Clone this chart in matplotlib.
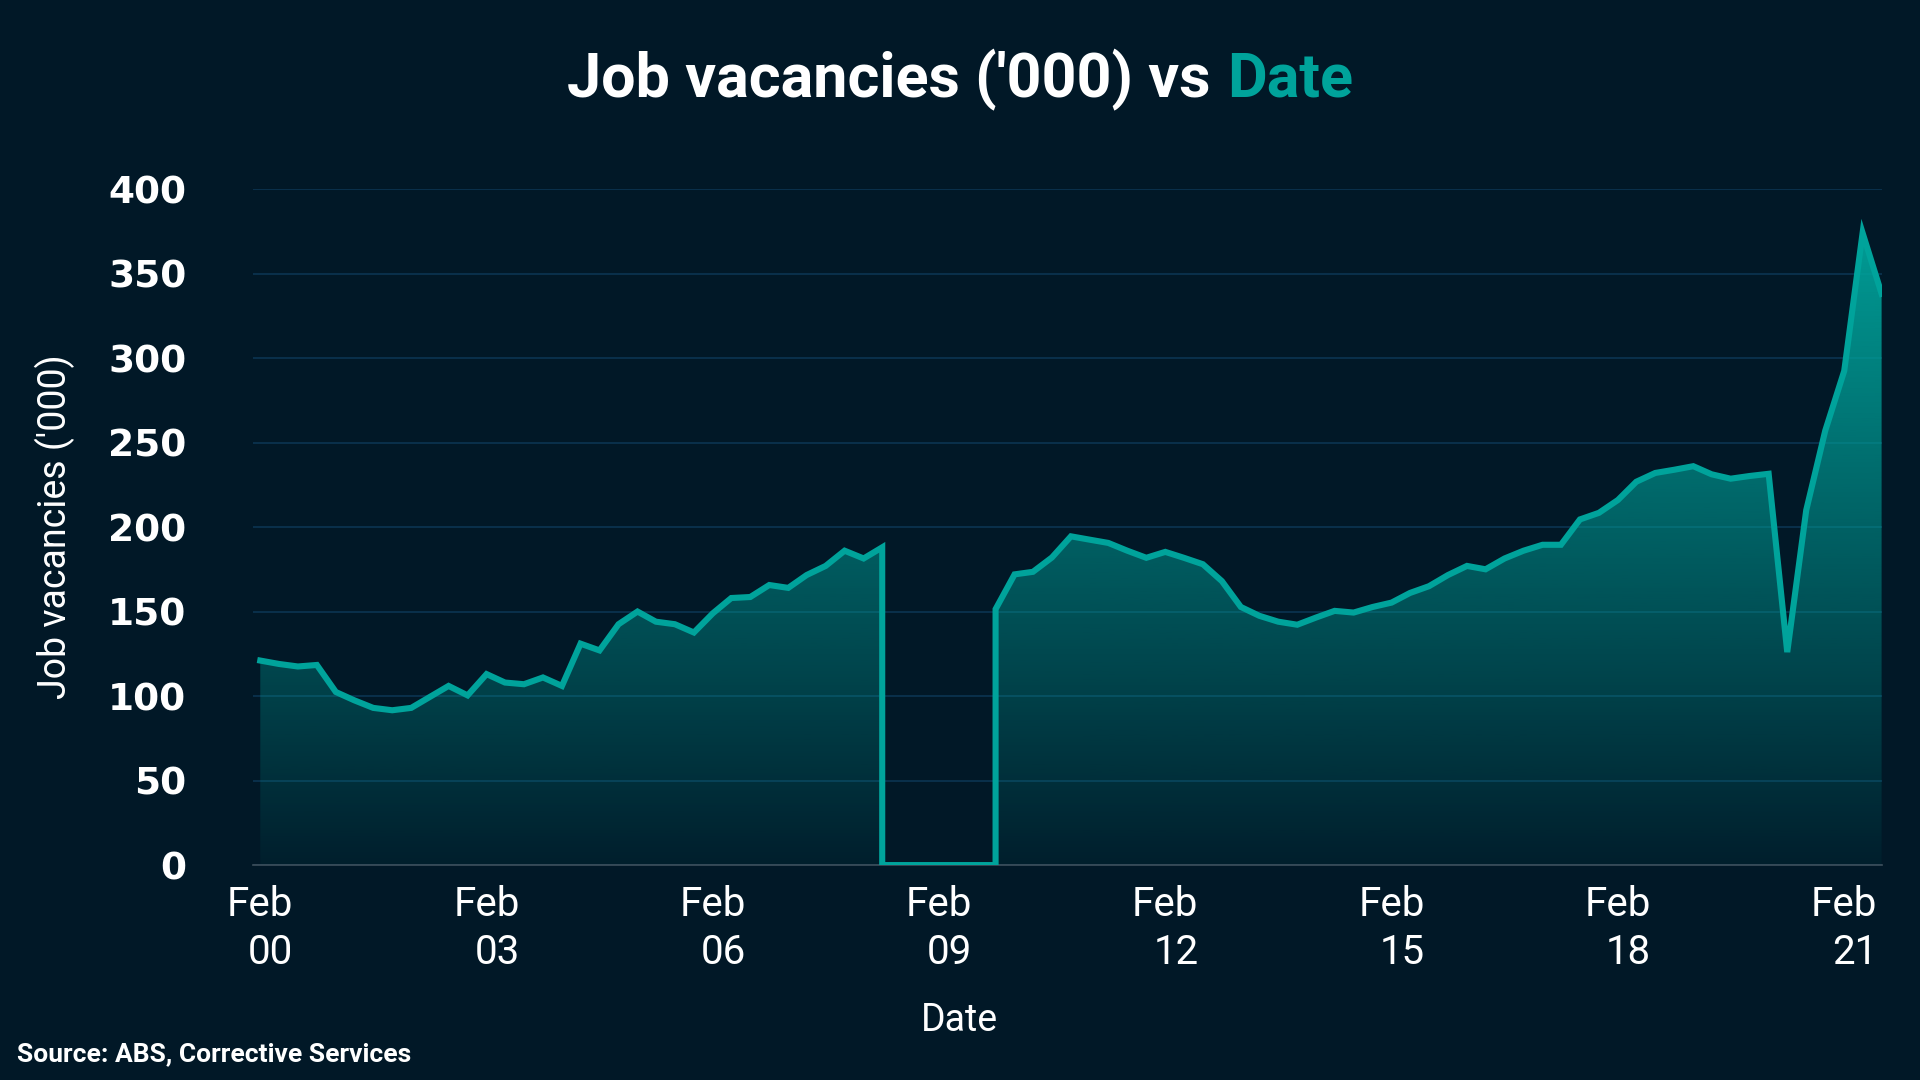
import numpy as np
import pandas as pd
import matplotlib
matplotlib.use("Agg")
import matplotlib.pyplot as plt
import matplotlib.dates as mdates
from matplotlib.colors import ListedColormap

# quarterly job vacancies ('000), Feb 2000 .. Aug 2021
# survey suspended Aug 2008 .. Aug 2009 (nan)
dates = pd.date_range("2000-02-01", periods=87, freq="3MS")
vacancies = [
    121, 119, 117.5, 118.4, 102.4, 97.5, 93, 91.6, 93, 99.4,
    106, 100.4, 113, 108, 107, 111, 106, 131, 127, 142.5,
    150, 144, 142.5, 137.6, 149, 158, 158.6, 165.7, 164, 171.6,
    177, 186, 181.4, 188,
    np.nan, np.nan, np.nan, np.nan, np.nan,
    151.4, 172, 173.5, 182, 194.5, 192.5, 190.6, 186, 181.8, 185.3,
    181.8, 178, 168, 152.7, 147.5, 144, 142.2, 146.5, 150.4, 149.4,
    152.7, 155.3, 161, 165, 171.6, 177, 175, 181.4, 186, 189.5,
    189.5, 204.5, 208.4, 216, 226.8, 232, 233.9, 236, 231.2, 228.6,
    230.2, 231.5, 126, 210, 257, 292.4, 374, 338,
]
yticks = [0, 50, 100, 150, 200, 250, 300, 350, 400]
tick_years = [2000, 2003, 2006, 2009, 2012, 2015, 2018, 2021]

bg = "#011827"
teal = "#00a39b"
grid_c = "#0b3452"

plt.rcParams['font.family'] = ['Roboto', 'DejaVu Sans']

# gap drawn as zero between last value before and first value after
xs, ys = [], []
for i in range(len(vacancies)):
    v = vacancies[i]
    if np.isnan(v):
        if i > 0 and not np.isnan(vacancies[i - 1]):
            xs.append(dates[i - 1]); ys.append(0)
        if i + 1 < len(vacancies) and not np.isnan(vacancies[i + 1]):
            xs.append(dates[i + 1]); ys.append(0)
        continue
    xs.append(dates[i]); ys.append(v)
xn = mdates.date2num(pd.DatetimeIndex(xs).to_pydatetime())
ys = np.array(ys, dtype=float)

fig = plt.figure(figsize=(19.2, 10.8), dpi=100, facecolor=bg)
ax = fig.add_axes([0.1318, 0.199, 0.8482, 0.626])
ax.set_facecolor(bg)

# gradient fill under the line
ymax = np.nanmax(ys)
poly = ax.fill_between(xn, 0, ys, facecolor="none", edgecolor="none")
n = 256
cols = np.zeros((n, 4))
cols[:, 0] = 0 / 255
cols[:, 1] = 163 / 255
cols[:, 2] = 155 / 255
cols[:, 3] = np.linspace(0.05, 0.95, n)
grad = np.linspace(0, 1, n).reshape(-1, 1)
im = ax.imshow(grad, cmap=ListedColormap(cols), aspect="auto", origin="lower",
               extent=[xn[0], xn[-1], 0, ymax], zorder=1)
im.set_clip_path(poly.get_paths()[0], transform=ax.transData)

ax.plot(xn, ys, color=teal, lw=4.4, zorder=3, solid_joinstyle="miter")

x0 = mdates.date2num(dates[0].to_pydatetime())
ax.set_xlim(x0 - 35, xn[-1])
ax.set_ylim(0, 400)
ax.set_yticks(yticks)
ax.set_yticklabels([str(t) for t in yticks], fontfamily="DejaVu Sans",
                   fontweight="bold", fontsize=27, color="white")
ax.yaxis.grid(True, color=grid_c, lw=1.2)
ax.set_axisbelow(True)

xt = [mdates.date2num(pd.Timestamp(year=y, month=2, day=1).to_pydatetime()) for y in tick_years]
ax.set_xticks(xt)
ax.set_xticklabels(["Feb\n%02d" % (y % 100) for y in tick_years], fontsize=29,
                   color="white", linespacing=1.3, multialignment="right")
ax.tick_params(axis="y", length=0, pad=48)
ax.tick_params(axis="x", length=0, pad=14)

for s in ["top", "right", "left"]:
    ax.spines[s].set_visible(False)
ax.spines["bottom"].set_color("#3e4f5b")
ax.spines["bottom"].set_linewidth(1.2)

ax.set_ylabel("Job vacancies ('000)", fontsize=27, fontweight="normal",
              color="white", labelpad=24)
ax.set_xlabel("Date", fontsize=27, color="white", labelpad=22)
ax.xaxis.label.set_x(0.434)

# two-colour title, centred
fig.canvas.draw()
r = fig.canvas.get_renderer()
t1 = fig.text(0, 0.926, "Job vacancies ('000) vs", fontsize=44, fontweight="bold",
              color="white", va="center", ha="left")
t2 = fig.text(0, 0.926, "Date", fontsize=44, fontweight="bold",
              color=teal, va="center", ha="left")
w1 = t1.get_window_extent(r).width
w2 = t2.get_window_extent(r).width
gap = 16
start = (1920 - (w1 + gap + w2)) / 2
t1.set_x(start / 1920)
t2.set_x((start + w1 + gap) / 1920)

fig.text(0.009, 0.024, "Source: ABS, Corrective Services", fontsize=19,
         fontweight="bold", color="white", ha="left", va="center")

fig.savefig("out.png", dpi=100, facecolor=bg)
